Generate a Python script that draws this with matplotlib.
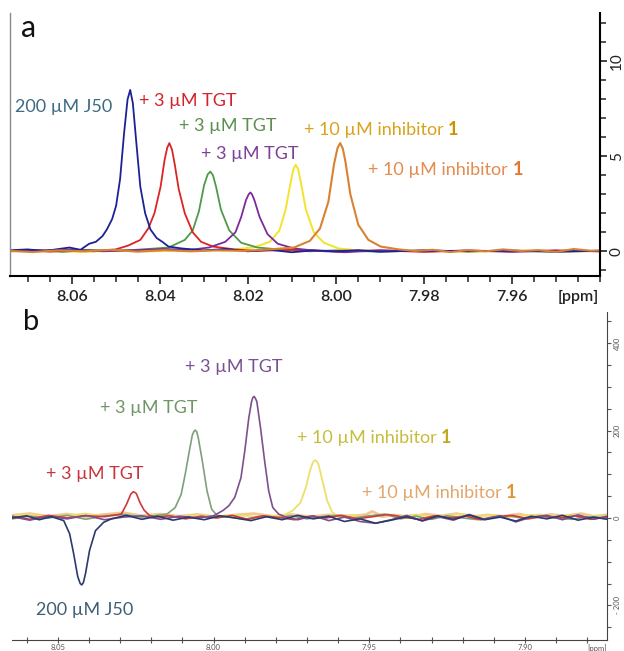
import matplotlib
matplotlib.use("Agg")
import matplotlib.pyplot as plt
from matplotlib.ticker import MultipleLocator, FixedLocator

plt.rcParams['font.family'] = ['Lato', 'DejaVu Sans']

# ---------------- panel a: 1H spectra (ppm, intensity) ----------------
A_J50_PPM = [8.0745, 8.0700, 8.0660, 8.0630, 8.0605, 8.0580, 8.0560, 8.0545, 8.0530, 8.0520,
             8.0508, 8.0499, 8.0490, 8.0481, 8.0473, 8.0467, 8.0461, 8.0453, 8.0444, 8.0433,
             8.0421, 8.0407, 8.0394, 8.0380, 8.0350, 8.0300, 8.0250, 8.0200, 8.0150, 8.0100,
             8.0050, 8.0000, 7.9950, 7.9900, 7.9800, 7.9700, 7.9600, 7.9500, 7.9400]
A_J50_INT = [0.05, 0.10, 0.02, 0.12, 0.20, 0.08, 0.40, 0.50, 0.80, 1.15,
             1.70, 2.40, 3.80, 6.20, 8.00, 8.50, 7.80, 5.70, 3.40, 2.00,
             1.15, 0.70, 0.50, 0.25, 0.15, 0.05, 0.12, 0.00, 0.08, -0.05,
             0.05, 0.00, 0.06, -0.02, 0.05, 0.00, 0.04, -0.02, 0.03]

A_TGT1_PPM = [8.0745, 8.0700, 8.0650, 8.0600, 8.0550, 8.0500, 8.0472, 8.0444, 8.0426, 8.0412,
              8.0398, 8.0389, 8.0383, 8.0378, 8.0372, 8.0366, 8.0357, 8.0343, 8.0325, 8.0306,
              8.0279, 8.0230, 8.0180, 8.0100, 8.0000, 7.9900, 7.9800, 7.9700, 7.9600, 7.9500,
              7.9400]
A_TGT1_INT = [0.00, 0.08, -0.02, 0.06, 0.00, 0.10, 0.30, 0.60, 1.20, 2.00,
              3.40, 4.80, 5.45, 5.70, 5.35, 4.60, 3.30, 2.00, 1.00, 0.50,
              0.25, 0.10, 0.02, 0.08, 0.00, 0.05, -0.03, 0.04, 0.00, 0.05,
              0.00]

A_TGT2_PPM = [8.0745, 8.0680, 8.0620, 8.0560, 8.0500, 8.0440, 8.0380, 8.0343, 8.0325, 8.0311,
              8.0299, 8.0291, 8.0285, 8.0279, 8.0272, 8.0261, 8.0242, 8.0215, 8.0178, 8.0120,
              8.0060, 8.0000, 7.9900, 7.9800, 7.9700, 7.9600, 7.9500, 7.9400]
A_TGT2_INT = [0.02, 0.06, -0.03, 0.08, 0.02, 0.10, 0.20, 0.60, 1.10, 2.10,
              3.50, 4.05, 4.20, 4.00, 3.40, 2.20, 1.10, 0.45, 0.20, 0.08,
              0.00, 0.05, -0.02, 0.04, 0.00, 0.03, -0.02, 0.02]

A_TGT3_PPM = [8.0745, 8.0670, 8.0600, 8.0530, 8.0460, 8.0390, 8.0330, 8.0288, 8.0251, 8.0228,
              8.0215, 8.0204, 8.0198, 8.0194, 8.0190, 8.0185, 8.0173, 8.0155, 8.0132, 8.0095,
              8.0040, 7.9980, 7.9900, 7.9800, 7.9700, 7.9600, 7.9500, 7.9400]
A_TGT3_INT = [0.00, 0.05, 0.10, 0.00, 0.06, 0.12, 0.08, 0.20, 0.50, 1.00,
              1.80, 2.70, 3.00, 3.10, 2.98, 2.70, 1.80, 0.90, 0.40, 0.15,
              0.02, -0.05, 0.05, 0.00, 0.04, -0.03, 0.03, 0.00]

A_INH1_PPM = [8.0745, 8.0660, 8.0580, 8.0500, 8.0420, 8.0340, 8.0260, 8.0187, 8.0150, 8.0128,
              8.0114, 8.0102, 8.0096, 8.0091, 8.0086, 8.0080, 8.0068, 8.0050, 8.0027, 7.9994,
              7.9950, 7.9880, 7.9800, 7.9700, 7.9600, 7.9500, 7.9400]
A_INH1_INT = [0.00, 0.04, -0.03, 0.05, 0.00, 0.06, 0.05, 0.20, 0.50, 1.10,
              2.20, 3.70, 4.35, 4.55, 4.35, 3.70, 2.20, 1.00, 0.45, 0.15,
              0.05, 0.00, 0.04, -0.02, 0.03, 0.00, 0.02]

A_INH2_PPM = [8.0745, 8.0690, 8.0630, 8.0570, 8.0510, 8.0450, 8.0390, 8.0330, 8.0270, 8.0210,
              8.0150, 8.0095, 8.0059, 8.0036, 8.0017, 8.0004, 7.9996, 7.9990, 7.9984, 7.9978,
              7.9967, 7.9949, 7.9926, 7.9898, 7.9857, 7.9820, 7.9780, 7.9740, 7.9700, 7.9660,
              7.9620, 7.9580, 7.9540, 7.9500, 7.9460, 7.9420, 7.9400]
A_INH2_INT = [0.03, -0.04, 0.05, 0.00, 0.08, -0.02, 0.06, 0.00, 0.05, 0.02,
              0.10, 0.20, 0.55, 1.20, 2.60, 4.60, 5.45, 5.70, 5.40, 4.70,
              3.00, 1.40, 0.60, 0.25, 0.10, 0.02, 0.08, -0.04, 0.06, 0.00,
              0.10, 0.02, 0.06, -0.03, 0.12, 0.03, 0.05]

# ---------------- panel b: WaterLOGSY-type spectra ----------------
B_J50_PPM = [8.0647, 8.0600, 8.0560, 8.0520, 8.0481, 8.0462, 8.0449, 8.0436, 8.0428, 8.0423,
             8.0418, 8.0411, 8.0398, 8.0379, 8.0353, 8.0328, 8.0280, 8.0230, 8.0180, 8.0130,
             8.0080, 8.0030, 7.9980, 7.9930, 7.9880, 7.9830, 7.9780, 7.9730, 7.9680, 7.9630,
             7.9580, 7.9530, 7.9480, 7.9430, 7.9380, 7.9330, 7.9280, 7.9230, 7.9180, 7.9130,
             7.9080, 7.9030, 7.8980, 7.8930, 7.8880, 7.8830, 7.8780, 7.8737]
B_J50_INT = [0, 5, -4, 3, -6, -36, -82, -134, -150, -153,
             -148, -127, -74, -29, -10, -2, 6, -3, 4, -5,
             2, -4, 5, 0, -6, 3, -4, 6, -2, 4,
             -8, -2, -12, -5, 3, -6, 5, -3, 7, -4,
             2, -7, 4, -2, 6, -5, 2, -3]

B_TGT1_PPM = [8.0647, 8.0590, 8.0530, 8.0470, 8.0410, 8.0350, 8.0296, 8.0279, 8.0266, 8.0261,
              8.0257, 8.0252, 8.0248, 8.0236, 8.0223, 8.0206, 8.0187, 8.0140, 8.0090, 8.0040,
              7.9990, 7.9940, 7.9890, 7.9840, 7.9790, 7.9740, 7.9690, 7.9640, 7.9590, 7.9540,
              7.9490, 7.9440, 7.9390, 7.9340, 7.9290, 7.9240, 7.9190, 7.9140, 7.9090, 7.9040,
              7.8990, 7.8940, 7.8890, 7.8840, 7.8790, 7.8737]
B_TGT1_INT = [4, -3, 6, 0, 5, 3, 9, 32, 54, 58,
              60, 58, 56, 35, 18, 6, 2, 5, -2, 4,
              0, 6, -3, 5, 1, -4, 4, 0, 6, -2,
              3, 8, 2, -3, 5, 0, 4, -4, 3, 6,
              -2, 4, 0, 5, -3, 2]

B_TGT2_PPM = [8.0647, 8.0590, 8.0530, 8.0470, 8.0410, 8.0350, 8.0290, 8.0230, 8.0190, 8.0149,
              8.0123, 8.0104, 8.0091, 8.0078, 8.0068, 8.0063, 8.0059, 8.0054, 8.0049, 8.0036,
              8.0021, 8.0006, 7.9989, 7.9950, 7.9900, 7.9850, 7.9800, 7.9750, 7.9700, 7.9650,
              7.9600, 7.9550, 7.9500, 7.9450, 7.9400, 7.9350, 7.9300, 7.9250, 7.9200, 7.9150,
              7.9100, 7.9050, 7.9000, 7.8950, 7.8900, 7.8850, 7.8800, 7.8737]
B_TGT2_INT = [-2, 4, 0, 6, -3, 5, 8, 2, 5, 9,
              24, 54, 100, 152, 190, 198, 201, 197, 183, 130,
              62, 20, 6, 2, -3, 4, 0, 5, -2, 3,
              6, 0, 5, 9, -2, 4, -3, 5, 0, -4,
              3, 5, -2, 4, 0, -3, 3, 0]

B_TGT3_PPM = [8.0647, 8.0590, 8.0530, 8.0470, 8.0410, 8.0350, 8.0290, 8.0230, 8.0170, 8.0110,
              8.0050, 8.0000, 7.9970, 7.9951, 7.9932, 7.9912, 7.9900, 7.9887, 7.9878, 7.9874,
              7.9870, 7.9866, 7.9861, 7.9849, 7.9836, 7.9823, 7.9810, 7.9791, 7.9772, 7.9730,
              7.9680, 7.9630, 7.9580, 7.9530, 7.9480, 7.9430, 7.9380, 7.9330, 7.9280, 7.9230,
              7.9180, 7.9130, 7.9080, 7.9030, 7.8980, 7.8930, 7.8880, 7.8830, 7.8780, 7.8737]
B_TGT3_INT = [3, -5, 4, -2, 6, -4, 2, 5, -3, 4,
              0, 5, 17, 28, 47, 92, 152, 228, 266, 275,
              278, 274, 266, 205, 130, 62, 24, 9, 3, -4,
              5, -6, 2, -8, -12, -4, 6, -7, 3, -5,
              8, -3, 5, -9, 2, 6, -4, 7, -3, 4]

B_INH1_PPM = [8.0647, 8.0590, 8.0530, 8.0470, 8.0410, 8.0350, 8.0290, 8.0230, 8.0170, 8.0110,
              8.0050, 7.9990, 7.9930, 7.9870, 7.9820, 7.9778, 7.9746, 7.9721, 7.9704, 7.9691,
              7.9682, 7.9677, 7.9673, 7.9668, 7.9663, 7.9650, 7.9635, 7.9619, 7.9599, 7.9550,
              7.9500, 7.9450, 7.9400, 7.9350, 7.9300, 7.9250, 7.9200, 7.9150, 7.9100, 7.9050,
              7.9000, 7.8950, 7.8900, 7.8850, 7.8800, 7.8737]
B_INH1_INT = [5, 8, 2, 6, 10, 4, 7, 3, 8, 2,
              6, 4, 7, 3, 4, 5, 17, 35, 69, 107,
              126, 131, 132, 129, 122, 84, 39, 13, 3, 6,
              2, 7, 4, 8, 3, 6, 9, 4, 7, 2,
              6, 8, 3, 6, 4, 5]

B_INH2_PPM = [8.0647, 8.0590, 8.0530, 8.0470, 8.0410, 8.0350, 8.0290, 8.0230, 8.0170, 8.0110,
              8.0050, 7.9990, 7.9930, 7.9870, 7.9810, 7.9750, 7.9690, 7.9630, 7.9570, 7.9530,
              7.9510, 7.9491, 7.9478, 7.9459, 7.9420, 7.9370, 7.9320, 7.9270, 7.9220, 7.9170,
              7.9120, 7.9070, 7.9020, 7.8970, 7.8920, 7.8870, 7.8820, 7.8780, 7.8737]
B_INH2_INT = [6, 10, 4, 9, 3, 8, 12, 5, 9, 4,
              8, 2, 7, 10, 4, 8, 3, 7, 5, 6,
              8, 15, 11, 3, 7, 2, 9, 5, 10, 3,
              7, 4, 9, 2, 8, 5, 10, 4, 7]

TGT_TEXT = "+ 3 \u00b5M TGT"
INH_TEXT = "+ 10 \u00b5M inhibitor"
J50_TEXT = "200 \u00b5M J50"


def put_label(ax, x, y, text, color, size, bold_one=None, ha="left"):
    t = ax.text(x, y, text, color=color, fontsize=size, ha=ha, va="center")
    if bold_one:
        ax.annotate("1", xy=(1, 0), xycoords=t, xytext=(3, 0), textcoords="offset points",
                    color=bold_one, fontsize=size, fontweight="bold", ha="left", va="bottom")
    return t


fig = plt.figure(figsize=(6.24, 6.51), dpi=100)

# ================= panel a =================
ax = fig.add_axes([10 / 624, 1 - 276 / 651, 590 / 624, 263 / 651])
ax.plot(A_INH1_PPM, A_INH1_INT, color="#f3e32c", lw=1.4)
ax.plot(A_TGT2_PPM, A_TGT2_INT, color="#4f9a48", lw=1.3)
ax.plot(A_TGT1_PPM, A_TGT1_INT, color="#dc2424", lw=1.3)
ax.plot(A_TGT3_PPM, A_TGT3_INT, color="#7b2c9a", lw=1.3)
ax.plot(A_J50_PPM, A_J50_INT, color="#1c2296", lw=1.3)
ax.plot(A_INH2_PPM, A_INH2_INT, color="#d98231", lw=1.5)

ax.set_xlim(8.0740, 7.9400)
ax.set_ylim(-1.3, 12.55)
ax.xaxis.set_major_locator(FixedLocator([8.06, 8.04, 8.02, 8.00, 7.98, 7.96]))
ax.xaxis.set_minor_locator(MultipleLocator(0.005))
ax.set_xticklabels(["8.06", "8.04", "8.02", "8.00", "7.98", "7.96"], fontweight="semibold")
ax.yaxis.tick_right()
ax.yaxis.set_major_locator(FixedLocator([0, 5, 10]))
ax.yaxis.set_minor_locator(MultipleLocator(1))
for lab in ax.get_yticklabels():
    lab.set_rotation(90)
    lab.set_va("center")
ax.tick_params(axis="x", which="major", direction="out", length=6, width=1.2,
               labelsize=11.5, pad=4, colors="#222222")
ax.tick_params(axis="x", which="minor", direction="out", length=4, width=1.1, colors="#222222")
ax.tick_params(axis="y", which="major", direction="out", length=5, width=1.2,
               labelsize=11, pad=2, colors="#222222")
ax.tick_params(axis="y", which="minor", direction="out", length=4, width=1.1, colors="#222222")
ax.spines["top"].set_visible(False)
ax.spines["left"].set_color("#8a8a8a")
ax.spines["left"].set_linewidth(1.0)
ax.spines["bottom"].set_linewidth(1.5)
ax.spines["right"].set_linewidth(1.5)
ax.annotate("[ppm]", xy=(7.9449, 0), xycoords=("data", "axes fraction"),
            xytext=(0, -10), textcoords="offset points", ha="center", va="top",
            fontsize=11.5, fontweight="semibold", color="#222222")
ax.text(0.018, 0.995, "a", transform=ax.transAxes, fontsize=22, va="top", ha="left",
        color="#111111")

put_label(ax, 8.0508, 7.6, J50_TEXT, "#3d6b83", 13, ha="right")
put_label(ax, 8.0446, 7.9, TGT_TEXT, "#d2232a", 13)
put_label(ax, 8.0357, 6.6, TGT_TEXT, "#5a8f4e", 13)
put_label(ax, 8.0306, 5.1, TGT_TEXT, "#7e3f98", 13)
put_label(ax, 8.0072, 6.4, INH_TEXT, "#d9a21b", 13, bold_one="#c99400")
put_label(ax, 7.9926, 4.3, INH_TEXT, "#e68a4d", 13, bold_one="#e0782e")

# ================= panel b =================
bx = fig.add_axes([12 / 624, 1 - 640 / 651, 595 / 624, 328 / 651])
bx.plot(B_INH2_PPM, B_INH2_INT, color="#f0b878", lw=2.0, alpha=0.8)
bx.plot(B_INH1_PPM, B_INH1_INT, color="#ece06a", lw=1.3)
bx.plot(B_TGT2_PPM, B_TGT2_INT, color="#7ea07a", lw=1.2)
bx.plot(B_TGT1_PPM, B_TGT1_INT, color="#d0393b", lw=1.2)
bx.plot(B_TGT3_PPM, B_TGT3_INT, color="#7d4f8e", lw=1.2)
bx.plot(B_J50_PPM, B_J50_INT, color="#2b3a6e", lw=1.2)

bx.set_xlim(8.0647, 7.8737)
bx.set_ylim(-279, 471)
bx.xaxis.set_major_locator(FixedLocator([8.05, 8.00, 7.95, 7.90]))
bx.xaxis.set_minor_locator(MultipleLocator(0.01))
bx.set_xticklabels(["8.05", "8.00", "7.95", "7.90"])
bx.yaxis.tick_right()
bx.yaxis.set_major_locator(FixedLocator([-200, 0, 200, 400]))
bx.yaxis.set_minor_locator(MultipleLocator(50))
bx.set_yticklabels(["- 200", "0", "200", "400"])
for lab in bx.get_yticklabels():
    lab.set_rotation(90)
    lab.set_va("center")
bx.tick_params(axis="x", which="both", direction="inout", length=4, width=0.8,
               labelsize=5.5, pad=1, colors="#555555")
bx.tick_params(axis="y", which="both", direction="out", length=3, width=0.8,
               labelsize=5.5, pad=2, colors="#555555")
bx.spines["top"].set_visible(False)
bx.spines["left"].set_visible(False)
bx.spines["bottom"].set_color("#444444")
bx.spines["right"].set_color("#444444")
bx.annotate("[ppm]", xy=(7.8770, 0), xycoords=("data", "axes fraction"),
            xytext=(0, -3), textcoords="offset points", ha="center", va="top",
            fontsize=5.5, color="#555555")
bx.text(0.018, 1.01, "b", transform=bx.transAxes, fontsize=21, va="top", ha="left",
        color="#111111")

put_label(bx, 8.0091, 345, TGT_TEXT, "#7a4f94", 13)
put_label(bx, 8.0366, 252, TGT_TEXT, "#6f9665", 13)
put_label(bx, 8.0538, 100, TGT_TEXT, "#c9343a", 13)
put_label(bx, 7.9733, 183, INH_TEXT, "#c8bd3a", 13, bold_one="#c2a820")
put_label(bx, 7.9523, 58, INH_TEXT, "#e3a66a", 13, bold_one="#e0962e")
put_label(bx, 8.0570, -210, J50_TEXT, "#3f5f75", 13)

fig.savefig("out.png", dpi=100)
